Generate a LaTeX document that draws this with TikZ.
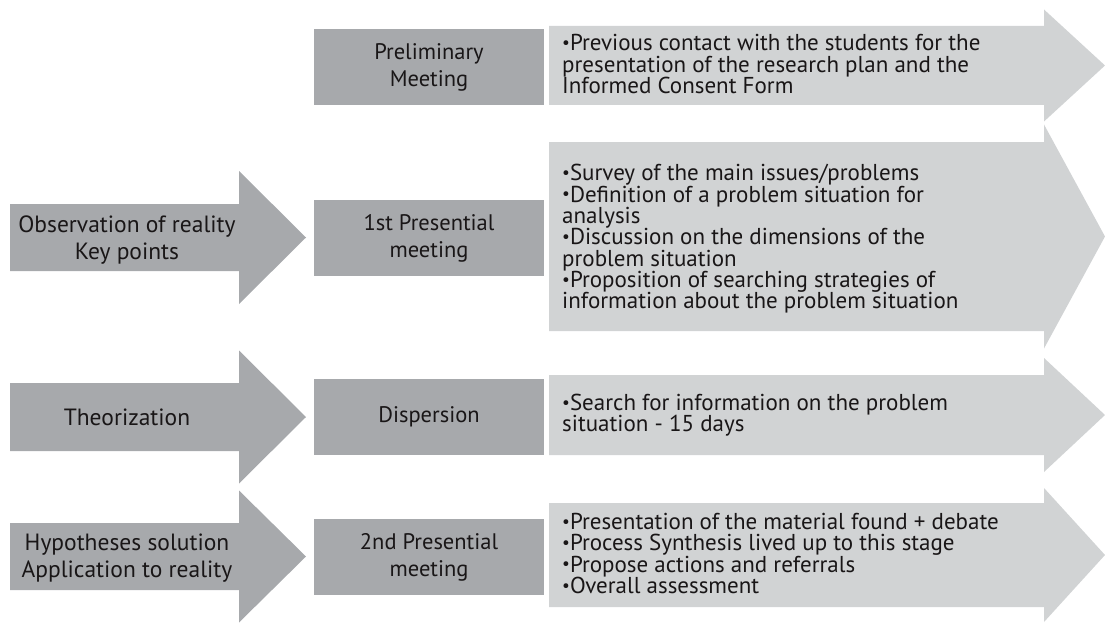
\documentclass[tikz,border=0pt]{standalone}
\usepackage{fontspec}
\setmainfont{PT Sans}
\usetikzlibrary{positioning}
\definecolor{stagegrey}{RGB}{167,169,172}
\definecolor{notegrey}{RGB}{209,211,212}
\definecolor{inkblack}{RGB}{25,22,23}
\newcommand{\blockarrow}[7]{
  \fill[#1] (#2,{#5-#6}) -- (#3,{#5-#6}) -- (#3,{#5-#7}) -- (#4,#5)
    -- (#3,{#5+#7}) -- (#3,{#5+#6}) -- (#2,{#5+#6}) -- cycle;
}
\newcommand{\dotmark}{\raisebox{.1em}{\scalebox{.75}{•}}}

\begin{document}
\begin{tikzpicture}[
    x=1pt, y=-1pt,
    every node/.style={text=inkblack},
    stage/.style={fill=stagegrey, minimum width=230pt, minimum height=76pt, inner sep=0pt, align=center, font=\fontsize{22.5}{27}\selectfont},
    phase/.style={align=center, inner sep=0pt, font=\fontsize{23.5}{27}\selectfont},
    note/.style={anchor=west, align=left, inner sep=0pt, font=\fontsize{23}{21.3}\selectfont},
]
\useasboundingbox (0,0) rectangle (1105,623);

% ------------------------------------------------------- left phases ---
\blockarrow{stagegrey}{10}{239}{306}{237.5}{33.5}{66.5}
\node[phase] (obs) at (127,240) {Observation of reality\\Key points};
\blockarrow{stagegrey}{10}{239}{306}{417}{34}{66.5}
\node[phase] (theo) at (127,417) {Theorization};
\blockarrow{stagegrey}{10}{239}{306}{556.5}{33.5}{66}
\node[phase] (hyp) at (127,558) {Hypotheses solution\\Application to reality};

% ------------------------------------------------------------ stages ---
\node[stage] (prelim) at (429,67) {Preliminary\\Meeting};
\node[stage] (first) at (429,238) {1st Presential\\meeting};
\node[stage] (disp) at (429,417) {Dispersion};
\node[stage] (second) at (429,557) {2nd Presential\\meeting};

% ------------------------------------------------------------- notes ---
\blockarrow{notegrey}{549}{1044}{1105}{65.5}{39.5}{56}
\node[note] (prelimnote) at (562,64) {\dotmark Previous contact with the students for the\\presentation of the research plan and the\\Informed Consent Form};
\blockarrow{notegrey}{549}{1044}{1105}{236.5}{94.5}{112}
\node[note] (firstnote) at (562,239) {\dotmark Survey of the main issues/problems\\\dotmark Definition of a problem situation for\\analysis\\\dotmark Discussion on the dimensions of the\\problem situation\\\dotmark Proposition of searching strategies of\\information about the problem situation};
\blockarrow{notegrey}{549}{1044}{1105}{415}{40}{57}
\node[note] (dispnote) at (562,415.5) {\dotmark Search for information on the problem\\situation - 15 days};
\blockarrow{notegrey}{549}{1044}{1105}{555}{52}{67}
\node[note] (secondnote) at (562,553.5) {\dotmark Presentation of the material found + debate\\\dotmark Process Synthesis lived up to this stage\\\dotmark Propose actions and referrals\\\dotmark Overall assessment};

\end{tikzpicture}
\end{document}
